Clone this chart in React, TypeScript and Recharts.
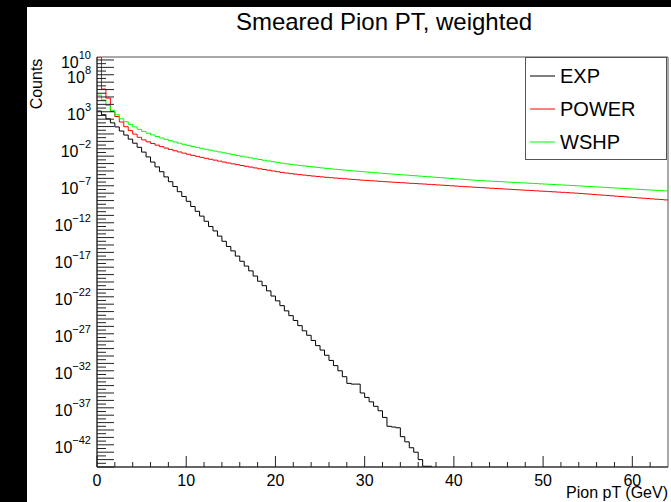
import { Legend, Line, LineChart, ReferenceArea, XAxis, YAxis } from "recharts";

// ROOT-style histogram: 0.5 GeV bins, values are log10(counts)
const BIN_WIDTH = 0.5;
const X_MAX = 64;
const Y_MIN = -45;
const Y_MAX = 10.4;

const expLog = [
  3.1, 2.6, 2.05, 1.5, 0.95, 0.4, -0.15, -0.7, -1.25, -1.8,
  -2.45, -3.1, -3.8, -4.45, -5.1, -5.8, -6.45, -7.1, -7.8, -8.45,
  -9.1, -9.8, -10.45, -11.1, -11.8, -12.5, -13.1, -13.8, -14.5, -15.2,
  -15.8, -16.5, -17.2, -17.85, -18.5, -19.2, -19.9, -20.5, -21.2, -21.9,
  -22.55, -23.2, -23.9, -24.55, -25.2, -25.9, -26.6, -27.2, -27.9, -28.6,
  -29.2, -29.9, -30.6, -31.3, -32.0, -32.8, -33.7, -33.8, -33.8, -35.0,
  -35.6, -36.2, -36.8, -37.4, -38.3, -39.5, -39.6, -39.7, -40.9, -41.6,
  -42.4, -43.0, -44.0, -44.9, -44.9, -48,
];

const powerLog = [
  10.4, 6.07, 4.85, 3.04, 2.36, 1.62, 0.98, 0.45, -0.02, -0.45,
  -0.8, -1.06, -1.29, -1.51, -1.71, -1.91, -2.09, -2.27, -2.43, -2.59,
  -2.74, -2.89, -3.02, -3.16, -3.29, -3.42, -3.54, -3.67, -3.79, -3.92,
  -4.04, -4.15, -4.26, -4.37, -4.48, -4.59, -4.7, -4.8, -4.9, -5.0,
  -5.1, -5.19, -5.28, -5.36, -5.43, -5.5, -5.56, -5.63, -5.69, -5.74,
  -5.8, -5.86, -5.91, -5.96, -6.0, -6.05, -6.1, -6.15, -6.19, -6.24,
  -6.28, -6.32, -6.36, -6.4, -6.44, -6.48, -6.52, -6.55, -6.59, -6.63,
  -6.67, -6.7, -6.74, -6.77, -6.81, -6.85, -6.89, -6.92, -6.96, -7.0,
  -7.04, -7.08, -7.12, -7.15, -7.19, -7.23, -7.26, -7.3, -7.33, -7.37,
  -7.4, -7.44, -7.47, -7.51, -7.54, -7.58, -7.61, -7.65, -7.68, -7.72,
  -7.75, -7.79, -7.82, -7.86, -7.89, -7.93, -7.96, -8.0, -8.04, -8.09,
  -8.13, -8.18, -8.23, -8.27, -8.31, -8.36, -8.41, -8.45, -8.5, -8.54,
  -8.59, -8.64, -8.68, -8.73, -8.77, -8.82, -8.86, -8.91,
];

const wshpLog = [
  5.25, 4.6, 3.85, 3.2, 2.6, 2.05, 1.65, 1.3, 0.95, 0.62,
  0.35, 0.1, -0.13, -0.34, -0.54, -0.73, -0.91, -1.08, -1.24, -1.39,
  -1.54, -1.68, -1.81, -1.94, -2.07, -2.19, -2.31, -2.43, -2.55, -2.67,
  -2.79, -2.9, -3.01, -3.12, -3.23, -3.34, -3.45, -3.55, -3.65, -3.75,
  -3.85, -3.94, -4.03, -4.11, -4.18, -4.25, -4.32, -4.39, -4.46, -4.52,
  -4.59, -4.65, -4.71, -4.77, -4.82, -4.88, -4.93, -4.99, -5.04, -5.09,
  -5.14, -5.19, -5.24, -5.29, -5.34, -5.38, -5.43, -5.47, -5.52, -5.56,
  -5.61, -5.65, -5.7, -5.74, -5.79, -5.83, -5.88, -5.92, -5.97, -6.01,
  -6.06, -6.1, -6.15, -6.19, -6.24, -6.28, -6.31, -6.35, -6.38, -6.41,
  -6.44, -6.48, -6.51, -6.54, -6.57, -6.61, -6.64, -6.67, -6.7, -6.74,
  -6.77, -6.8, -6.83, -6.87, -6.9, -6.93, -6.96, -7.0, -7.03, -7.07,
  -7.1, -7.14, -7.17, -7.2, -7.24, -7.27, -7.31, -7.34, -7.38, -7.41,
  -7.45, -7.48, -7.52, -7.55, -7.59, -7.62, -7.65, -7.69,
];

const xLabelled = [0, 10, 20, 30, 40, 50, 60];
const yLabelled = [10, 8, 3, -2, -7, -12, -17, -22, -27, -32, -37, -42];

const series = [
  { key: "exp", name: "EXP", color: "#000000" },
  { key: "power", name: "POWER", color: "#ff0000" },
  { key: "wshp", name: "WSHP", color: "#00ff00" },
];

// one row per bin low edge, plus a closing edge at X_MAX
const nBins = powerLog.length;
const data = Array.from({ length: nBins + 1 }, (_, i) => ({
  pt: i * BIN_WIDTH,
  exp: i < expLog.length ? expLog[i] : null,
  power: powerLog[Math.min(i, nBins - 1)],
  wshp: wshpLog[Math.min(i, nBins - 1)],
}));

const xTicks = Array.from({ length: 32 }, (_, i) => i * 2);
const yTicks = Array.from({ length: 111 }, (_, i) => Y_MIN + i * 0.5);

const AXIS = "#222";

function XTick(props: any) {
  const { x, y, payload } = props;
  const v = payload.value as number;
  const major = xLabelled.includes(v);
  return (
    <g>
      <line x1={x} x2={x} y1={y} y2={y - (major ? 11 : 5)} stroke={AXIS} />
      {major && (
        <text x={x} y={y + 19} textAnchor="middle" fontSize={16} fill="#000">
          {v}
        </text>
      )}
    </g>
  );
}

function YTick(props: any) {
  const { x, y, payload } = props;
  const v = payload.value as number;
  const decade = Number.isInteger(v);
  return (
    <g>
      <line x1={x} x2={x + (decade ? 17 : 9)} y1={y} y2={y} stroke={AXIS} />
      {yLabelled.includes(v) && (
        <text x={x - 6} y={y + 8} textAnchor="end" fontSize={16} fill="#000">
          10
          <tspan dy={-9} fontSize={11}>
            {v < 0 ? `\u2212${-v}` : v}
          </tspan>
        </text>
      )}
    </g>
  );
}

function LegendBox() {
  return (
    <svg width={142} height={103} style={{ display: "block" }}>
      <rect x={0.5} y={0.5} width={141} height={102} fill="#fff" stroke="#555" />
      {series.map((s, i) => {
        const cy = 19 + i * 33;
        return (
          <g key={s.key}>
            <line x1={5} x2={30} y1={cy} y2={cy} stroke={s.color} />
            <text x={35} y={cy + 7} fontSize={20} fill="#000">
              {s.name}
            </text>
          </g>
        );
      })}
    </svg>
  );
}

export default function App() {
  return (
    <div
      style={{
        position: "absolute",
        left: 0,
        top: 0,
        width: 671,
        height: 502,
        background: "#000",
        overflow: "hidden",
        fontFamily: "'Liberation Sans', Arial, sans-serif",
      }}
    >
      <div
        style={{
          position: "absolute",
          left: 27,
          top: 7,
          width: 644,
          height: 495,
          background: "#fff",
        }}
      >
        <LineChart
          width={644}
          height={495}
          data={data}
          margin={{ top: 50, right: 3, bottom: 0, left: 0 }}
        >
          <ReferenceArea
            x1={0}
            x2={X_MAX}
            y1={Y_MIN}
            y2={Y_MAX}
            fill="none"
            stroke="#555"
            ifOverflow="visible"
          />
          <XAxis
            dataKey="pt"
            type="number"
            domain={[0, X_MAX]}
            ticks={xTicks}
            interval={0}
            allowDataOverflow
            height={35}
            tickSize={0}
            tickMargin={0}
            tickLine={false}
            axisLine={{ stroke: AXIS }}
            tick={XTick}
          />
          <YAxis
            type="number"
            domain={[Y_MIN, Y_MAX]}
            ticks={yTicks}
            interval={0}
            allowDataOverflow
            width={70}
            tickSize={0}
            tickMargin={0}
            tickLine={false}
            axisLine={{ stroke: AXIS }}
            tick={YTick}
          />
          {series.map((s) => (
            <Line
              key={s.key}
              dataKey={s.key}
              name={s.name}
              type="stepAfter"
              stroke={s.color}
              strokeWidth={1}
              dot={false}
              activeDot={false}
              isAnimationActive={false}
            />
          ))}
          <Legend
            layout="vertical"
            align="center"
            verticalAlign="middle"
            content={<LegendBox />}
            wrapperStyle={{ left: 498, top: 50, width: 142, height: 103 }}
          />
        </LineChart>
        <svg
          width={644}
          height={495}
          style={{ position: "absolute", left: 0, top: 0, pointerEvents: "none" }}
        >
          <text x={357} y={23} textAnchor="middle" fontSize={24} fill="#000">
            Smeared Pion PT, weighted
          </text>
          <text
            transform="translate(15, 77) rotate(-90)"
            textAnchor="middle"
            fontSize={16}
            fill="#000"
          >
            Counts
          </text>
          <text x={641} y={491} textAnchor="end" fontSize={16} fill="#000">
            Pion pT (GeV)
          </text>
        </svg>
      </div>
    </div>
  );
}
